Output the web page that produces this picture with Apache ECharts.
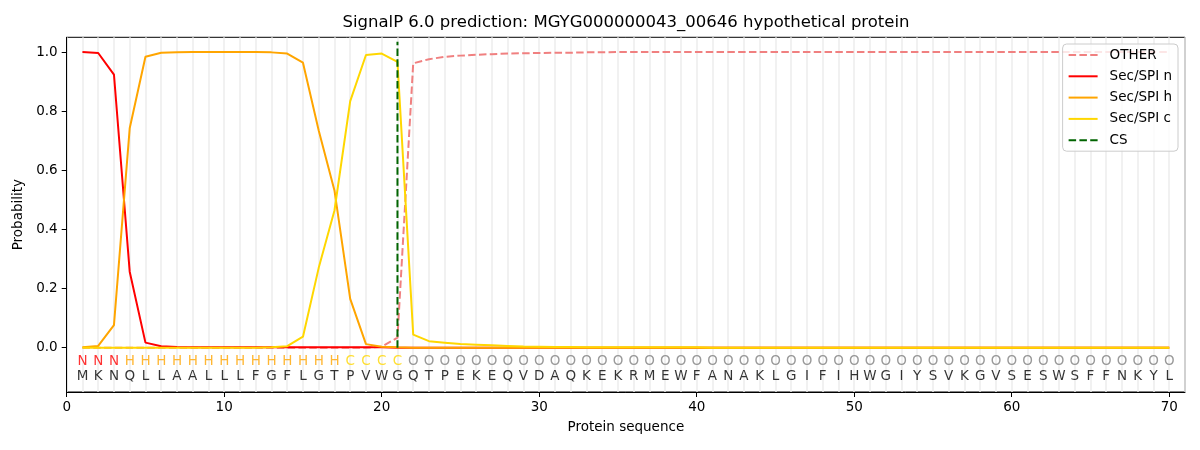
<!DOCTYPE html>
<html>
<head>
<meta charset="utf-8">
<script src="https://cdn.jsdelivr.net/npm/echarts@6/dist/echarts.min.js"></script>
<style>
html,body{margin:0;padding:0;background:#fff;}
#chart{width:1200px;height:450px;}
</style>
</head>
<body>
<div id="chart"></div>
<script>
// Protein sequence (positions 1..70)
const sequence = ['M','K','N','Q','L','L','A','A','L','L','L','F','G','F','L','G','T','P','V','W',
  'G','Q','T','P','E','K','E','Q','V','D','A','Q','K','E','K','R','M','E','W','F',
  'A','N','A','K','L','G','I','F','I','H','W','G','I','Y','S','V','K','G','V','S',
  'E','S','W','S','F','F','N','K','Y','L'];
// Predicted region labels per position
const regions = ['N','N','N','H','H','H','H','H','H','H','H','H','H','H','H','H','H','C','C','C',
  'C','O','O','O','O','O','O','O','O','O','O','O','O','O','O','O','O','O','O','O',
  'O','O','O','O','O','O','O','O','O','O','O','O','O','O','O','O','O','O','O','O',
  'O','O','O','O','O','O','O','O','O','O'];
// Series values
const otherProb = [0,0,0,0,0,0,0,0,0,0,0,0,0,0,0,0,0,0,0,0.003,
  0.034,0.962,0.976,0.984,0.988,0.991,0.993,0.995,0.996,0.997,0.998,0.998,0.999,0.999,1,1,1,1,1,1,
  1,1,1,1,1,1,1,1,1,1,1,1,1,1,1,1,1,1,1,1,
  1,1,1,1,1,1,1,1,1,1];
const nProb = [1.0,0.997,0.924,0.257,0.017,0.005,0.002,0.001,0.001,0.001,0.001,0.001,0.001,0.001,0.001,0.001,0.001,0.001,0.001,0.001,
  0,0,0,0,0,0,0,0,0,0,0,0,0,0,0,0,0,0,0,0,
  0,0,0,0,0,0,0,0,0,0,0,0,0,0,0,0,0,0,0,0,
  0,0,0,0,0,0,0,0,0,0];
const hProb = [0.001,0.006,0.076,0.742,0.984,0.998,0.999,1.0,1.0,1.0,1.0,1.0,0.999,0.995,0.964,0.735,0.532,0.165,0.012,0.003,
  0.001,0,0,0,0,0,0,0,0,0,0,0,0,0,0,0,0,0,0,0,
  0,0,0,0,0,0,0,0,0,0,0,0,0,0,0,0,0,0,0,0,
  0,0,0,0,0,0,0,0,0,0];
const cProb = [0,0,0,0,0,0,0,0,0,0,0,0,0.001,0.005,0.037,0.27,0.464,0.834,0.99,0.995,
  0.967,0.044,0.022,0.017,0.012,0.01,0.008,0.006,0.004,0.003,0.002,0.002,0.001,0.001,0.001,0.001,0.001,0.001,0.001,0.001,
  0,0,0,0,0,0,0,0,0,0,0,0,0,0,0,0,0,0,0,0,
  0,0,0,0,0,0,0,0,0,0];
const csPosition = 21;
const csTop = 1.035;
const xTicks = [0,10,20,30,40,50,60,70];
const yTicks = [0,0.2,0.4,0.6,0.8,1.0];
const regionLetterY = -0.048;
const residueY = -0.099;

const regionColors = {N:'#ff0000', H:'#ffa500', C:'#ffd700', O:'#808080'};
const FONT = 'DejaVu Sans';

const positions = sequence.map((_, i) => i + 1);
const pairs = arr => arr.map((v, i) => [positions[i], v]);

const chart = echarts.init(document.getElementById('chart'), null, {renderer:'canvas'});
const option = {
  animation: false,
  backgroundColor: '#ffffff',
  textStyle: {fontFamily: FONT},
  title: {
    text: 'SignalP 6.0 prediction: MGYG000000043_00646 hypothetical protein',
    left: 626, top: 14, textAlign: 'center', padding: 0,
    textStyle: {fontFamily: FONT, fontSize: 16.5, fontWeight: 'normal', color: '#000'}
  },
  grid: {left: 66.7, right: 15, top: 37.3, bottom: 58, show: true,
    borderColor: '#000', borderWidth: 1, backgroundColor: 'transparent'},
  legend: {
    orient: 'vertical', right: 22, top: 44,
    data: ['OTHER','Sec/SPI n','Sec/SPI h','Sec/SPI c','CS'],
    itemWidth: 29, itemHeight: 14, itemGap: 7.3,
    padding: [4, 6, 4, 5],
    borderColor: '#cccccc', borderWidth: 1, borderRadius: 4,
    backgroundColor: 'rgba(255,255,255,0.8)',
    itemStyle: {opacity: 0},
    textStyle: {fontFamily: FONT, fontSize: 13.5, color: '#000', padding: [0,0,0,7]}
  },
  xAxis: [{
    type: 'value', min: 0, max: 71,
    name: 'Protein sequence', nameLocation: 'middle', nameGap: 28,
    nameTextStyle: {fontFamily: FONT, fontSize: 13.5, color: '#000'},
    axisLine: {show: true, onZero: false, lineStyle: {color: '#000', width: 1}},
    axisTick: {show: true, length: 5, lineStyle: {color: '#000'}, customValues: xTicks},
    axisLabel: {fontFamily: FONT, fontSize: 13.5, color: '#000', margin: 8, customValues: xTicks,
      formatter: v => String(v)},
    splitLine: {show: false}
  }, {
    type: 'value', min: 0, max: 71, interval: 1, position: 'bottom',
    axisLine: {show: false}, axisTick: {show: false}, axisLabel: {show: false},
    splitLine: {show: true, lineStyle: {color: '#ececec', width: 1.5}}
  }],
  yAxis: {
    type: 'value', min: -0.15, max: 1.05,
    name: 'Probability', nameLocation: 'middle', nameGap: 30,
    nameTextStyle: {fontFamily: FONT, fontSize: 13.5, color: '#000'},
    axisLine: {show: true, onZero: false, lineStyle: {color: '#000', width: 1}},
    axisTick: {show: true, length: 5, lineStyle: {color: '#000'}, customValues: yTicks},
    axisLabel: {fontFamily: FONT, fontSize: 13.5, color: '#000', margin: 9, customValues: yTicks,
      formatter: v => v.toFixed(1)},
    splitLine: {show: false}
  },
  series: [
    {name: 'OTHER', type: 'line', data: pairs(otherProb), symbol: 'none', showSymbol: false,
      color: '#f08080', lineStyle: {color: '#f08080', width: 2, type: [7.5, 3.3]}, z: 3},
    {name: 'Sec/SPI n', type: 'line', data: pairs(nProb), symbol: 'none', showSymbol: false,
      color: '#ff0000', lineStyle: {color: '#ff0000', width: 2}, z: 4},
    {name: 'Sec/SPI h', type: 'line', data: pairs(hProb), symbol: 'none', showSymbol: false,
      color: '#ffa500', lineStyle: {color: '#ffa500', width: 2}, z: 5},
    {name: 'Sec/SPI c', type: 'line', data: pairs(cProb), symbol: 'none', showSymbol: false,
      color: '#ffd700', lineStyle: {color: '#ffd700', width: 2}, z: 6},
    {name: 'CS', type: 'line', data: [[csPosition, 0], [csPosition, csTop]], symbol: 'none', showSymbol: false,
      color: '#006400', lineStyle: {color: '#006400', width: 2, type: [7.5, 3.3]}, z: 7},
    {name: 'regions', type: 'scatter', xAxisIndex: 1, silent: true, symbolSize: 1,
      itemStyle: {color: 'rgba(0,0,0,0)'},
      data: regions.map((r, i) => ({value: [positions[i], regionLetterY],
        label: {color: regionColors[r]}})),
      label: {show: true, position: 'inside', fontFamily: FONT, fontSize: 13.5,
        formatter: p => regions[p.dataIndex]}, z: 8},
    {name: 'residues', type: 'scatter', xAxisIndex: 1, silent: true, symbolSize: 1,
      itemStyle: {color: 'rgba(0,0,0,0)'},
      data: sequence.map((s, i) => [positions[i], residueY]),
      label: {show: true, position: 'inside', fontFamily: FONT, fontSize: 13.5, color: '#000',
        formatter: p => sequence[p.dataIndex]}, z: 8}
  ]
};
chart.setOption(option);
</script>
</body>
</html>
